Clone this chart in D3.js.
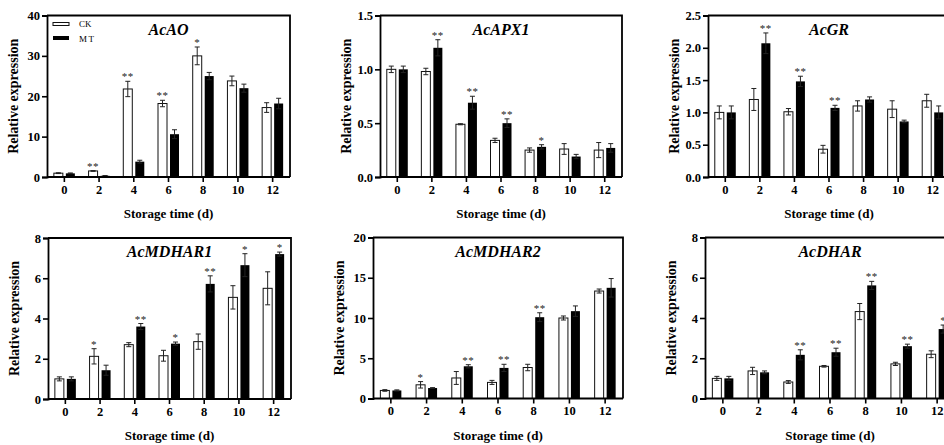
<!DOCTYPE html>
<html>
<head>
<meta charset="utf-8">
<script src="https://cdn.jsdelivr.net/npm/d3@7"></script>
<style>
  body { margin: 0; background: #fff; }
  svg { display: block; font-family: 'Liberation Serif', 'Times New Roman', serif; }
</style>
</head>
<body>
<svg id="chart" width="944" height="445"></svg>
<script>
// storage days (x categories)
const days = [0, 2, 4, 6, 8, 10, 12];
const genes = ['AcAO', 'AcAPX1', 'AcGR', 'AcMDHAR1', 'AcMDHAR2', 'AcDHAR'];
const yMax = [40, 1.5, 2.5, 8, 20, 8];
const yStep = [10, 0.5, 0.5, 2, 5, 2];

// CK (control) means and SD, one row per gene
const ckMean = [
  [0.95, 1.5, 21.8, 18.2, 30.0, 23.8, 17.2],
  [1.0, 0.98, 0.49, 0.34, 0.25, 0.26, 0.25],
  [1.0, 1.2, 1.01, 0.43, 1.10, 1.05, 1.18],
  [1.0, 2.12, 2.7, 2.15, 2.85, 5.05, 5.5],
  [1.0, 1.7, 2.55, 2.0, 3.85, 10.0, 13.35],
  [1.0, 1.37, 0.82, 1.6, 4.32, 1.72, 2.2]
];
const ckErr = [
  [0.1, 0.1, 1.9, 0.8, 2.2, 1.2, 1.2],
  [0.03, 0.03, 0.005, 0.02, 0.02, 0.05, 0.07],
  [0.1, 0.17, 0.05, 0.06, 0.08, 0.13, 0.1],
  [0.1, 0.38, 0.1, 0.27, 0.38, 0.58, 0.82],
  [0.1, 0.4, 0.8, 0.25, 0.4, 0.25, 0.25],
  [0.1, 0.18, 0.07, 0.04, 0.4, 0.08, 0.17]
];

// MT (melatonin) means and SD
const mtMean = [
  [0.9, 0.3, 3.8, 10.6, 25.0, 22.0, 18.2],
  [1.0, 1.2, 0.69, 0.50, 0.28, 0.19, 0.27],
  [1.0, 2.07, 1.48, 1.07, 1.20, 0.86, 1.0],
  [1.0, 1.43, 3.6, 2.75, 5.72, 6.65, 7.2],
  [1.0, 1.3, 4.0, 3.8, 10.1, 10.85, 13.75],
  [1.0, 1.3, 2.17, 2.3, 5.62, 2.6, 3.45]
];
const mtErr = [
  [0.1, 0.05, 0.35, 1.1, 0.9, 1.0, 1.3],
  [0.03, 0.075, 0.06, 0.04, 0.02, 0.02, 0.04],
  [0.1, 0.16, 0.08, 0.04, 0.04, 0.02, 0.1],
  [0.1, 0.25, 0.15, 0.08, 0.4, 0.57, 0.1],
  [0.07, 0.05, 0.2, 0.45, 0.55, 0.65, 1.15],
  [0.1, 0.07, 0.25, 0.2, 0.2, 0.1, 0.2]
];

// significance marks
const ckSig = [
  ['', '**', '**', '**', '*', '', ''],
  ['', '', '', '', '', '', ''],
  ['', '', '', '', '', '', ''],
  ['', '*', '', '', '', '', ''],
  ['', '*', '', '', '', '', ''],
  ['', '', '', '', '', '', '']
];
const mtSig = [
  ['', '', '', '', '', '', ''],
  ['', '**', '**', '**', '*', '', ''],
  ['', '**', '**', '**', '', '', ''],
  ['', '', '**', '*', '**', '*', '*'],
  ['', '', '**', '**', '**', '', ''],
  ['', '', '**', '**', '**', '**', '*']
];

const legendLabels = ['CK', 'MT'];

// panel frames (layout)
const boxes = [
  { x0: 47, x1: 290, top: 15.5, bottom: 177 },
  { x0: 380, x1: 622, top: 15.5, bottom: 177 },
  { x0: 708, x1: 950, top: 15.5, bottom: 177 },
  { x0: 48, x1: 291, top: 238, bottom: 399 },
  { x0: 373, x1: 623, top: 237.5, bottom: 398.5 },
  { x0: 705, x1: 955, top: 237.5, bottom: 398.5 }
];

const FONT = "'Liberation Serif', 'Times New Roman', serif";
const svg = d3.select('#chart');
const barW = 9;
const gap = 3;

genes.forEach(function(gene, i) {
  const b = boxes[i];
  const g = svg.append('g');

  const x = d3.scaleBand().domain(days).range([b.x0, b.x1]);
  const y = d3.scaleLinear().domain([0, yMax[i]]).range([b.bottom, b.top]);
  const ticks = d3.range(0, yMax[i] + yStep[i] / 2, yStep[i]);
  const fmt = yStep[i] < 1 ? d3.format('.1f') : d3.format('d');

  // frame top + right
  g.append('path')
    .attr('d', 'M' + b.x0 + ',' + b.top + 'H' + b.x1 + 'V' + b.bottom)
    .attr('fill', 'none')
    .attr('stroke', '#000')
    .attr('stroke-width', 1.8);

  const cx = (d) => x(d) + x.bandwidth() / 2;

  // CK bars
  g.selectAll('rect.ck')
    .data(days)
    .join('rect')
    .attr('class', 'ck')
    .attr('x', (d) => cx(d) - gap / 2 - barW)
    .attr('y', (d, j) => y(ckMean[i][j]))
    .attr('width', barW)
    .attr('height', (d, j) => b.bottom - y(ckMean[i][j]))
    .attr('fill', '#fff')
    .attr('stroke', '#111')
    .attr('stroke-width', 1);

  // MT bars
  g.selectAll('rect.mt')
    .data(days)
    .join('rect')
    .attr('class', 'mt')
    .attr('x', (d) => cx(d) + gap / 2)
    .attr('y', (d, j) => y(mtMean[i][j]))
    .attr('width', barW)
    .attr('height', (d, j) => b.bottom - y(mtMean[i][j]))
    .attr('fill', '#000');

  // error bars + significance marks
  const series = [
    { mean: ckMean[i], err: ckErr[i], sig: ckSig[i], off: -gap / 2 - barW / 2 },
    { mean: mtMean[i], err: mtErr[i], sig: mtSig[i], off: gap / 2 + barW / 2 }
  ];
  series.forEach(function(s) {
    days.forEach(function(d, j) {
      const ex = cx(d) + s.off;
      const hi = y(s.mean[j] + s.err[j]);
      const lo = y(Math.max(0, s.mean[j] - s.err[j]));
      g.append('path')
        .attr('d', 'M' + ex + ',' + lo + 'V' + hi +
          'M' + (ex - 2.5) + ',' + hi + 'H' + (ex + 2.5) +
          'M' + (ex - 2.5) + ',' + lo + 'H' + (ex + 2.5))
        .attr('fill', 'none')
        .attr('stroke', '#222')
        .attr('stroke-width', 1);
      if (s.sig[j]) {
        g.append('text')
          .attr('x', ex)
          .attr('y', hi - 1)
          .attr('text-anchor', 'middle')
          .attr('font-size', 11)
          .attr('letter-spacing', 0.5)
          .attr('fill', '#222')
          .text(s.sig[j]);
      }
    });
  });

  // axes
  const xAxis = d3.axisBottom(x).tickSizeOuter(0).tickSize(5).tickPadding(3);
  const gx = g.append('g')
    .attr('transform', 'translate(0,' + b.bottom + ')')
    .call(xAxis);
  const yAxis = d3.axisLeft(y).tickValues(ticks).tickFormat(fmt)
    .tickSizeOuter(0).tickSize(5).tickPadding(2);
  const gy = g.append('g')
    .attr('transform', 'translate(' + b.x0 + ',0)')
    .call(yAxis);
  [gx, gy].forEach(function(a) {
    a.attr('font-family', FONT).attr('font-size', 12.5).attr('font-weight', 'bold');
    a.select('.domain').attr('stroke', '#000').attr('stroke-width', 1.8);
    a.selectAll('.tick line').attr('stroke', '#000').attr('stroke-width', 1.6);
    a.selectAll('.tick text').attr('fill', '#000');
  });
  // extend x axis line to the y axis
  gx.select('.domain').attr('d', 'M' + b.x0 + ',0H' + b.x1);

  // gene title
  g.append('text')
    .attr('x', (b.x0 + b.x1) / 2)
    .attr('y', b.top + 19)
    .attr('text-anchor', 'middle')
    .attr('font-size', 16)
    .attr('font-weight', 'bold')
    .attr('font-style', 'italic')
    .text(gene);

  // axis titles
  g.append('text')
    .attr('x', (b.x0 + b.x1) / 2)
    .attr('y', b.bottom + 41)
    .attr('text-anchor', 'middle')
    .attr('font-size', 13)
    .attr('font-weight', 'bold')
    .text('Storage time (d)');

  g.append('text')
    .attr('transform', 'translate(' + (b.x0 - 29) + ',' + ((b.top + b.bottom) / 2) + ') rotate(-90)')
    .attr('text-anchor', 'middle')
    .attr('font-size', 14)
    .attr('font-weight', 'bold')
    .text('Relative expression');

  // legend in first panel only
  if (i === 0) {
    const lg = g.append('g').attr('transform', 'translate(' + (b.x0 + 6) + ',' + (b.top + 7) + ')');
    lg.append('rect').attr('x', 0).attr('y', 0).attr('width', 16).attr('height', 3)
      .attr('fill', '#fff').attr('stroke', '#111').attr('stroke-width', 1);
    lg.append('rect').attr('x', 0).attr('y', 13.5).attr('width', 16).attr('height', 4)
      .attr('fill', '#000');
    lg.selectAll('text.lab')
      .data(legendLabels)
      .join('text')
      .attr('class', 'lab')
      .attr('x', 26)
      .attr('y', (d, k) => 4.5 + k * 14.5)
      .attr('font-size', 9)
      .attr('letter-spacing', (d, k) => k === 1 ? 1.5 : 0)
      .text((d) => d);
  }
});
</script>
</body>
</html>
